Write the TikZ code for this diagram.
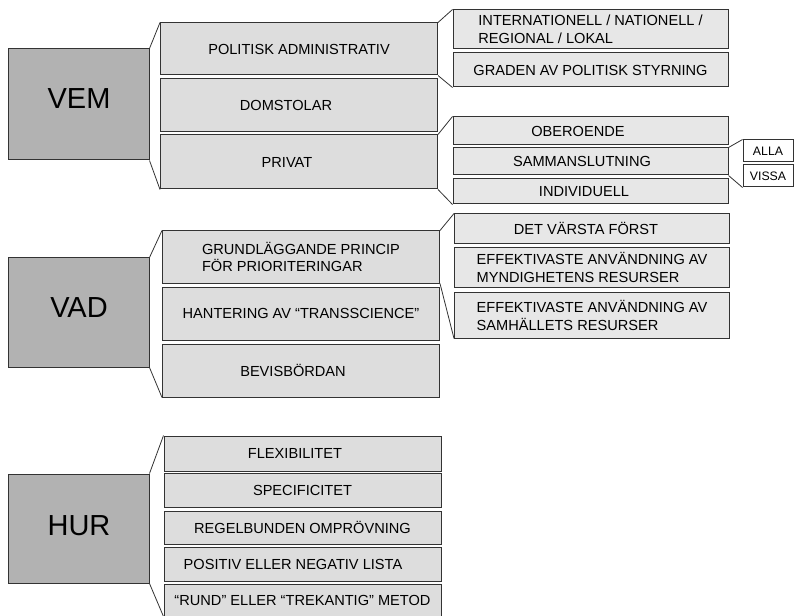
\documentclass[tikz,border=0pt]{standalone}
\usepackage{fontspec}
\setmainfont{Liberation Sans}
\usepackage{xcolor}
\usepackage{tikz}
\definecolor{mainGray}{rgb}{0.70,0.70,0.70}
\definecolor{midGray}{rgb}{0.865,0.865,0.865}
\definecolor{subGray}{rgb}{0.905,0.905,0.905}
\definecolor{edgeGray}{rgb}{0.2,0.2,0.2}

\begin{document}
\begin{tikzpicture}[x=1bp,y=-1bp,
    mainbox/.style={draw=edgeGray,line width=1bp,fill=mainGray,inner sep=0pt,
        minimum width=140bp,font=\fontsize{29bp}{31bp}\selectfont},
    midbox/.style={draw=edgeGray,line width=1bp,fill=midGray,inner sep=0pt,
        minimum width=277bp,align=left,font=\fontsize{14.6bp}{17.5bp}\selectfont},
    subbox/.style={draw=edgeGray,line width=1bp,fill=subGray,inner sep=0pt,
        minimum width=275bp,align=left,font=\fontsize{14.6bp}{18bp}\selectfont},
    tinybox/.style={draw=edgeGray,line width=1bp,fill=white,inner sep=0pt,
        minimum width=50bp,minimum height=22bp,font=\fontsize{12.3bp}{14bp}\selectfont},
    lshift/.style={execute at end node={\hspace*{#1}}},
    fan/.style={draw=edgeGray,line width=0.8bp}]

    \useasboundingbox (0,0) rectangle (794,616);

    % VEM
    \node[mainbox, minimum height=111bp, text depth=12bp] (vem) at (79,104.5) {VEM};
    \node[midbox, minimum height=52bp] (pol) at (299,49) {POLITISK ADMINISTRATIV};
    \node[midbox, minimum height=53bp, lshift=26bp] (dom) at (299,105.5) {DOMSTOLAR};
    \node[midbox, minimum height=54bp, lshift=24bp] (priv) at (299,162) {PRIVAT};

    \node[subbox, minimum height=39bp] (intl) at (590.5,29.5) {INTERNATIONELL / NATIONELL /\\REGIONAL / LOKAL};
    \node[subbox, minimum height=34bp] (grad) at (590.5,70) {GRADEN AV POLITISK STYRNING};
    \node[subbox, minimum height=28bp, lshift=25bp] (ober) at (590.5,131) {OBEROENDE};
    \node[subbox, minimum height=27bp, lshift=17bp] (samm) at (590.5,161.5) {SAMMANSLUTNING};
    \node[subbox, minimum height=25bp, lshift=13bp] (indiv) at (590.5,191.5) {INDIVIDUELL};

    \node[tinybox] (alla) at (768,151) {ALLA};
    \node[tinybox] (vissa) at (768,176) {VISSA};

    \draw[fan] (vem.north east) -- (pol.north west);
    \draw[fan] (vem.south east) -- (priv.south west);
    \draw[fan] (pol.north east) -- (intl.north west);
    \draw[fan] (pol.south east) -- (grad.south west);
    \draw[fan] (priv.north east) -- (ober.north west);
    \draw[fan] (priv.south east) -- (indiv.south west);
    \draw[fan] (samm.north east) -- (alla.north west);
    \draw[fan] (samm.south east) -- (vissa.south west);

    % VAD
    \node[mainbox, minimum height=109bp, text depth=10bp] (vad) at (79,312.5) {VAD};
    \node[midbox, minimum height=52bp] (grund) at (301,257) {GRUNDLÄGGANDE PRINCIP\\FÖR PRIORITERINGAR};
    \node[midbox, minimum height=53bp] (hant) at (301,313.5) {HANTERING AV “TRANSSCIENCE”};
    \node[midbox, minimum height=53bp, lshift=16bp] (bevis) at (301,370.5) {BEVISBÖRDAN};

    \node[subbox, minimum height=29bp, lshift=12bp] (varst) at (592,228.5) {DET VÄRSTA FÖRST};
    \node[subbox, minimum height=40bp] (myndig) at (592,267) {EFFEKTIVASTE ANVÄNDNING AV\\MYNDIGHETENS RESURSER};
    \node[subbox, minimum height=46bp] (samhall) at (592,315) {EFFEKTIVASTE ANVÄNDNING AV\\SAMHÄLLETS RESURSER};

    \draw[fan] (vad.north east) -- (grund.north west);
    \draw[fan] (vad.south east) -- (bevis.south west);
    \draw[fan] (grund.north east) -- (varst.north west);
    \draw[fan] (grund.south east) -- (samhall.south west);

    % HUR
    \node[mainbox, minimum height=109bp, text depth=5bp] (hur) at (79,528.5) {HUR};
    \foreach \name/\y/\h/\sh/\txt in {flex/453.5/35/15/FLEXIBILITET,
                                     spec/490/34/0/SPECIFICITET,
                                     regel/527.5/33/0/REGELBUNDEN OMPRÖVNING,
                                     posit/564/34/19/POSITIV ELLER NEGATIV LISTA,
                                     rund/600/32/0/“RUND” ELLER “TREKANTIG” METOD}
        \node[midbox, minimum height=\h bp, lshift=\sh bp] (\name) at (302.5,\y) {\txt};

    \draw[fan] (hur.north east) -- (flex.north west);
    \draw[fan] (hur.south east) -- (rund.south west);
\end{tikzpicture}
\end{document}
